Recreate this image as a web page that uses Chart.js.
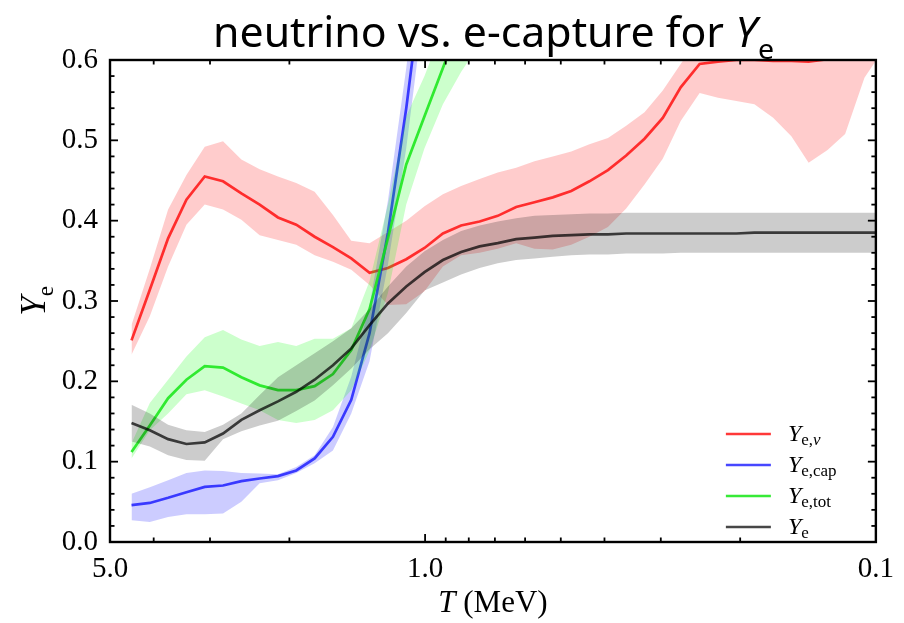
<!DOCTYPE html>
<html>
<head>
<meta charset="utf-8">
<title>neutrino vs. e-capture for Ye</title>
<script src="https://cdn.jsdelivr.net/npm/chart.js@4.4.1/dist/chart.umd.min.js"></script>
<style>
  html, body { margin: 0; padding: 0; background: #fff; }
  #wrap { width: 904px; height: 623px; }
</style>
</head>
<body>
<div id="wrap"><canvas id="yeChart" width="904" height="623"></canvas></div>
<script>
// temperature grid (MeV), hot -> cold
const temps = [4.48, 4.08, 3.716, 3.384, 3.082, 2.807, 2.556, 2.328, 2.12, 1.931,
  1.758, 1.601, 1.458, 1.328, 1.209, 1.101, 1.003, 0.913, 0.832, 0.757,
  0.69, 0.628, 0.572, 0.521, 0.474, 0.432, 0.393, 0.358, 0.326, 0.297,
  0.271, 0.246, 0.224, 0.204, 0.186, 0.169, 0.154, 0.141, 0.128, 0.117,
  0.106, 0.1];

// Y_e,nu
const yeNu = [0.251, 0.314, 0.378, 0.426, 0.455, 0.449, 0.434, 0.42, 0.404, 0.395,
  0.38, 0.367, 0.353, 0.335, 0.341, 0.352, 0.366, 0.384, 0.394, 0.399,
  0.406, 0.417, 0.423, 0.429, 0.437, 0.449, 0.463, 0.481, 0.502, 0.528,
  0.566, 0.595, 0.598, 0.6, 0.6, 0.599, 0.599, 0.598, 0.601, 0.603,
  0.604, 0.605];
const yeNuHi = [0.27, 0.34, 0.414, 0.457, 0.492, 0.499, 0.476, 0.464, 0.455, 0.447,
  0.436, 0.407, 0.375, 0.372, 0.386, 0.4, 0.418, 0.433, 0.443, 0.452,
  0.46, 0.466, 0.474, 0.48, 0.486, 0.495, 0.503, 0.518, 0.535, 0.562,
  0.595, 0.63, 0.65, 0.65, 0.65, 0.65, 0.65, 0.65, 0.65, 0.65,
  0.65, 0.65];
const yeNuLo = [0.233, 0.281, 0.343, 0.395, 0.42, 0.414, 0.401, 0.382, 0.376, 0.37,
  0.357, 0.349, 0.339, 0.32, 0.295, 0.296, 0.312, 0.343, 0.357, 0.36,
  0.365, 0.372, 0.365, 0.364, 0.37, 0.38, 0.392, 0.415, 0.445, 0.477,
  0.524, 0.559, 0.553, 0.549, 0.545, 0.528, 0.505, 0.472, 0.488, 0.508,
  0.578, 0.599];

// Y_e,cap (leaves the frame above 0.6)
const yeCap = [0.046, 0.0486, 0.055, 0.062, 0.0686, 0.0703, 0.0757, 0.079, 0.082, 0.089,
  0.104, 0.131, 0.177, 0.26, 0.385, 0.54, 0.72];
const yeCapHi = [0.06, 0.068, 0.077, 0.086, 0.089, 0.0885, 0.086, 0.0853, 0.0844, 0.0935,
  0.108, 0.143, 0.206, 0.295, 0.425, 0.59, 0.78];
const yeCapLo = [0.027, 0.025, 0.031, 0.0345, 0.0345, 0.0354, 0.05, 0.073, 0.077, 0.086,
  0.098, 0.114, 0.16, 0.225, 0.345, 0.49, 0.67];

// Y_e,tot
const yeTot = [0.112, 0.145, 0.179, 0.202, 0.219, 0.217, 0.205, 0.195, 0.189, 0.189,
  0.194, 0.209, 0.239, 0.29, 0.378, 0.47, 0.53, 0.59, 0.65, 0.71];
const yeTotHi = [0.123, 0.173, 0.202, 0.231, 0.255, 0.264, 0.252, 0.244, 0.249, 0.244,
  0.253, 0.253, 0.266, 0.325, 0.42, 0.53, 0.58, 0.64, 0.7, 0.75];
const yeTotLo = [0.104, 0.139, 0.16, 0.184, 0.189, 0.181, 0.1725, 0.164, 0.152, 0.148,
  0.152, 0.164, 0.189, 0.238, 0.31, 0.42, 0.49, 0.545, 0.585, 0.62];

// Y_e
const ye = [0.148, 0.139, 0.128, 0.122, 0.124, 0.135, 0.152, 0.164, 0.175, 0.187,
  0.202, 0.22, 0.241, 0.27, 0.297, 0.318, 0.336, 0.351, 0.361, 0.368,
  0.372, 0.377, 0.379, 0.381, 0.382, 0.383, 0.383, 0.384, 0.384, 0.384,
  0.384, 0.384, 0.384, 0.384, 0.385, 0.385, 0.385, 0.385, 0.385, 0.385,
  0.385, 0.385];
const yeHi = [0.171, 0.16, 0.146, 0.139, 0.137, 0.146, 0.16, 0.183, 0.205, 0.22,
  0.235, 0.25, 0.266, 0.29, 0.318, 0.343, 0.362, 0.376, 0.387, 0.394,
  0.399, 0.403, 0.406, 0.407, 0.408, 0.409, 0.409, 0.41, 0.41, 0.41,
  0.41, 0.41, 0.41, 0.41, 0.41, 0.41, 0.41, 0.41, 0.41, 0.41,
  0.41, 0.41];
const yeLo = [0.125, 0.119, 0.108, 0.102, 0.101, 0.128, 0.138, 0.145, 0.151, 0.163,
  0.176, 0.195, 0.216, 0.24, 0.26, 0.285, 0.313, 0.323, 0.333, 0.341,
  0.347, 0.351, 0.353, 0.355, 0.357, 0.358, 0.358, 0.359, 0.359, 0.359,
  0.36, 0.36, 0.36, 0.36, 0.36, 0.36, 0.36, 0.36, 0.36, 0.36,
  0.36, 0.36];

// axis ticks
const xTickLabels = [5.0, 1.0, 0.1];
const xMinorTicks = [4, 3, 2, 0.9, 0.8, 0.7, 0.6, 0.5, 0.4, 0.3, 0.2];
const yTickLabels = [0, 0.1, 0.2, 0.3, 0.4, 0.5, 0.6];
const yMinorTicks = [0.02, 0.04, 0.06, 0.08, 0.12, 0.14, 0.16, 0.18, 0.22, 0.24, 0.26, 0.28,
  0.32, 0.34, 0.36, 0.38, 0.42, 0.44, 0.46, 0.48, 0.52, 0.54, 0.56, 0.58];

const SERIF = '"Liberation Serif", "DejaVu Serif", serif';

const pts = vals => vals.map((v, i) => ({ x: temps[i], y: v }));

function band(hi, lo, color, order) {
  return [
    { data: pts(hi), borderWidth: 0, pointRadius: 0, fill: '+1', backgroundColor: color, order },
    { data: pts(lo), borderWidth: 0, pointRadius: 0, fill: false, order }
  ];
}
function line(vals, color, order) {
  return { data: pts(vals), borderColor: color, borderWidth: 2.7, pointRadius: 0, fill: false, order };
}

const series = [
  { color: 'rgba(255,0,0,0.78)', sub: [['e,', ''], ['\u03bd', 'italic ']] },
  { color: 'rgba(0,0,255,0.72)', sub: [['e,cap', '']] },
  { color: 'rgba(20,230,20,0.85)', sub: [['e,tot', '']] },
  { color: 'rgba(0,0,0,0.72)', sub: [['e', '']] }
];

// draw a run of text pieces left to right
function drawRuns(ctx, runs, x, y) {
  let cx = x;
  runs.forEach(r => {
    ctx.font = r.font;
    ctx.fillText(r.text, cx, y + (r.dy || 0));
    cx += ctx.measureText(r.text).width;
  });
  return cx - x;
}
function runsWidth(ctx, runs) {
  let w = 0;
  runs.forEach(r => { ctx.font = r.font; w += ctx.measureText(r.text).width; });
  return w;
}

const decor = {
  id: 'decor',
  afterDraw(chart) {
    const { ctx, chartArea: a, scales: { x, y } } = chart;
    ctx.save();
    ctx.strokeStyle = '#000';
    ctx.fillStyle = '#000';

    // frame
    ctx.lineWidth = 2.4;
    ctx.strokeRect(a.left, a.top, a.right - a.left, a.bottom - a.top);

    // inward ticks on all four sides
    const seg = (x1, y1, x2, y2) => { ctx.beginPath(); ctx.moveTo(x1, y1); ctx.lineTo(x2, y2); ctx.stroke(); };
    ctx.lineWidth = 1.8;
    xTickLabels.forEach(v => {
      const px = x.getPixelForValue(v);
      seg(px, a.bottom, px, a.bottom - 8); seg(px, a.top, px, a.top + 8);
    });
    xMinorTicks.forEach(v => {
      const px = x.getPixelForValue(v);
      seg(px, a.bottom, px, a.bottom - 4.5); seg(px, a.top, px, a.top + 4.5);
    });
    yTickLabels.forEach(v => {
      const py = y.getPixelForValue(v);
      seg(a.left, py, a.left + 8, py); seg(a.right, py, a.right - 8, py);
    });
    yMinorTicks.forEach(v => {
      const py = y.getPixelForValue(v);
      seg(a.left, py, a.left + 4.5, py); seg(a.right, py, a.right - 4.5, py);
    });

    // title
    ctx.textBaseline = 'alphabetic';
    const tFont = '400 42px "Noto Sans", "Open Sans", sans-serif';
    const titleRuns = [
      { text: 'neutrino vs. e-capture for ', font: tFont },
      { text: 'Y', font: 'italic ' + tFont }
    ];
    const subRun = [{ text: 'e', font: '400 28px "Noto Sans", sans-serif', dy: 12 }];
    const wMain = runsWidth(ctx, titleRuns);
    const sx = 544 / wMain;
    ctx.save();
    ctx.translate(213, 47);
    ctx.scale(sx, 1);
    const w1 = drawRuns(ctx, titleRuns, 0, 0);
    drawRuns(ctx, subRun, w1 + 1, 0);
    ctx.restore();

    // x axis title
    const xRuns = [
      { text: 'T', font: 'italic 31px ' + SERIF },
      { text: ' (MeV)', font: '31px ' + SERIF }
    ];
    const cxm = (a.left + a.right) / 2;
    drawRuns(ctx, xRuns, cxm - runsWidth(ctx, xRuns) / 2, 612);

    // y axis title (rotated)
    const yRuns = [
      { text: 'Y', font: 'italic 35px ' + SERIF },
      { text: 'e', font: '23px ' + SERIF, dy: 8 }
    ];
    ctx.save();
    ctx.translate(45, (a.top + a.bottom) / 2);
    ctx.rotate(-Math.PI / 2);
    drawRuns(ctx, yRuns, -runsWidth(ctx, yRuns) / 2, 0);
    ctx.restore();

    // legend
    const lx = a.right - 150, ly0 = a.bottom - 108, dy = 31;
    series.forEach((s, i) => {
      const ly = ly0 + i * dy;
      ctx.strokeStyle = s.color;
      ctx.lineWidth = 2.6;
      seg(lx, ly, lx + 45, ly);
      ctx.fillStyle = '#000';
      const runs = [{ text: 'Y', font: 'italic 24px ' + SERIF }];
      s.sub.forEach(p => runs.push({ text: p[0], font: p[1] + '17px ' + SERIF, dy: 4 }));
      drawRuns(ctx, runs, lx + 62, ly + 7);
    });

    ctx.restore();
  }
};

const datasets = [
  ...band(yeNuHi, yeNuLo, 'rgba(255,0,0,0.2)', 8),
  line(yeNu, series[0].color, 7),
  ...band(yeCapHi, yeCapLo, 'rgba(0,0,255,0.2)', 6),
  line(yeCap, series[1].color, 5),
  ...band(yeTotHi, yeTotLo, 'rgba(0,255,0,0.2)', 4),
  line(yeTot, series[2].color, 3),
  ...band(yeHi, yeLo, 'rgba(0,0,0,0.2)', 2),
  line(ye, series[3].color, 1)
];

new Chart(document.getElementById('yeChart').getContext('2d'), {
  type: 'line',
  data: { datasets },
  options: {
    responsive: false,
    animation: false,
    events: [],
    layout: { padding: { top: 60, right: 26, left: 0, bottom: 0 } },
    elements: { line: { tension: 0 } },
    plugins: { legend: { display: false }, tooltip: { enabled: false }, title: { display: false } },
    scales: {
      x: {
        type: 'logarithmic',
        reverse: true,
        min: 0.1,
        max: 5,
        grid: { display: false, drawTicks: false },
        border: { display: false },
        afterBuildTicks: s => { s.ticks = xTickLabels.map(v => ({ value: v })); },
        afterFit: s => { s.height = 81; },
        ticks: {
          autoSkip: false,
          maxRotation: 0,
          padding: 10,
          color: '#000',
          font: { family: SERIF, size: 29 },
          callback: v => Number(v).toFixed(1)
        }
      },
      y: {
        min: 0,
        max: 0.6,
        grid: { display: false, drawTicks: false },
        border: { display: false },
        afterBuildTicks: s => { s.ticks = yTickLabels.map(v => ({ value: v })); },
        afterFit: s => { s.width = 110; },
        ticks: {
          padding: 12,
          color: '#000',
          font: { family: SERIF, size: 29 },
          callback: v => Number(v).toFixed(1)
        }
      }
    }
  },
  plugins: [decor]
});
</script>
</body>
</html>
